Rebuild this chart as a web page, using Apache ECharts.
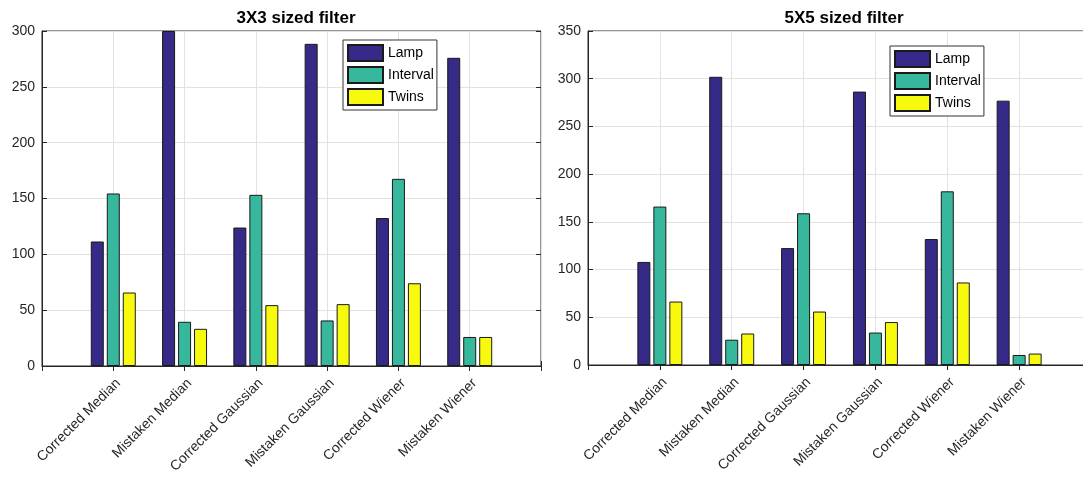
<!DOCTYPE html>
<html>
<head>
<meta charset="utf-8">
<script src="https://cdn.jsdelivr.net/npm/echarts@6/dist/echarts.min.js"></script>
<style>
  html, body { margin: 0; padding: 0; background: #fff; }
  #chart { width: 1083px; height: 479px; }
</style>
</head>
<body>
<div id="chart"></div>
<script>
// Filter variants on the x axis (padded with blank slots at both ends so the
// axis runs from 0 to 7 and the groups sit on 1..6)
const categories = ['Corrected Median', 'Mistaken Median', 'Corrected Gaussian',
                    'Mistaken Gaussian', 'Corrected Wiener', 'Mistaken Wiener'];
const seriesNames = ['Lamp', 'Interval', 'Twins'];

// 3X3 sized filter
const lamp3 = [111.5, 300, 124, 288.5, 132.5, 276];
const interval3 = [154.5, 39.6, 153.3, 40.8, 167.6, 26];
const twins3 = [65.8, 33.3, 54.5, 55.4, 74.1, 26];

// 5X5 sized filter
const lamp5 = [108, 302, 122.5, 286.5, 132, 277];
const interval5 = [166, 26.5, 159, 34, 182, 10.5];
const twins5 = [66.5, 33, 56, 45, 86.5, 12];

const yTicks3 = { min: 0, max: 300, interval: 50 };
const yTicks5 = { min: 0, max: 350, interval: 50 };

const colors = ['#352a87', '#37b89d', '#f8fa0d'];
const font = 'Liberation Sans, Arial, sans-serif';
const axisColor = '#262626';
const gridColor = '#e2e2e2';

const padded = arr => [null, ...arr, null];
const axisCats = ['', ...categories, ''];

function xAxis(gridIndex) {
  return {
    type: 'category', gridIndex, data: axisCats, boundaryGap: false,
    axisLine: { show: true, lineStyle: { color: axisColor, width: 1 } },
    axisTick: { show: true, inside: true, length: 5, interval: 0, lineStyle: { color: axisColor } },
    axisLabel: { interval: 0, rotate: 45, verticalAlign: 'top', fontFamily: font, fontSize: 14,
                 color: axisColor, margin: 10 },
    splitLine: { show: true, interval: 0, lineStyle: { color: gridColor, width: 1 } }
  };
}
// tick marks along the top edge of the box
function xAxisTop(gridIndex) {
  return {
    type: 'category', gridIndex, data: axisCats, boundaryGap: false, position: 'top',
    axisLine: { show: false },
    axisTick: { show: true, inside: true, length: 5, interval: 0, lineStyle: { color: axisColor } },
    axisLabel: { show: false }, splitLine: { show: false }
  };
}
function yAxis(gridIndex, t) {
  return {
    type: 'value', gridIndex, min: t.min, max: t.max, interval: t.interval,
    axisLine: { show: true, lineStyle: { color: axisColor, width: 1 } },
    axisTick: { show: true, inside: true, length: 5, lineStyle: { color: axisColor } },
    axisLabel: { fontFamily: font, fontSize: 14, color: axisColor, margin: 7 },
    splitLine: { show: true, lineStyle: { color: gridColor, width: 1 } }
  };
}
// tick marks along the right edge of the box
function yAxisRight(gridIndex, t) {
  return {
    type: 'value', gridIndex, min: t.min, max: t.max, interval: t.interval, position: 'right',
    axisLine: { show: false },
    axisTick: { show: true, inside: true, length: 5, lineStyle: { color: axisColor } },
    axisLabel: { show: false }, splitLine: { show: false }
  };
}
function bars(idx, values) {
  return values.map((v, i) => ({
    name: seriesNames[i], type: 'bar', xAxisIndex: idx, yAxisIndex: idx,
    data: padded(v), barWidth: 13, barGap: '23%', clip: true,
    itemStyle: { color: colors[i], borderColor: '#1a1a1a', borderWidth: 1 },
    emphasis: { disabled: true }
  }));
}
function legend(left, top) {
  return {
    orient: 'vertical', left, top, itemWidth: 35, itemHeight: 16, itemGap: 4,
    padding: [4, 3, 4, 4], backgroundColor: '#fff', borderColor: '#333', borderWidth: 1,
    borderRadius: 0, selectedMode: false, icon: 'rect', data: seriesNames,
    textStyle: { fontFamily: font, fontSize: 14, color: '#000' }
  };
}

const gridBase = { show: true, borderColor: axisColor, borderWidth: 1, backgroundColor: 'transparent', outerBoundsMode: 'none' };

const chart = echarts.init(document.getElementById('chart'), null, { renderer: 'canvas' });
chart.setOption({
  animation: false,
  backgroundColor: '#fff',
  title: [
    { text: '3X3 sized filter', left: 291, top: 5, textAlign: 'center',
      textStyle: { fontFamily: font, fontSize: 17, fontWeight: 'bold', color: '#000' } },
    { text: '5X5 sized filter', left: 839, top: 5, textAlign: 'center',
      textStyle: { fontFamily: font, fontSize: 17, fontWeight: 'bold', color: '#000' } }
  ],
  grid: [
    Object.assign({ left: 42, top: 31, width: 499, height: 335 }, gridBase),
    Object.assign({ left: 588, top: 31, width: 503, height: 334 }, gridBase)
  ],
  xAxis: [xAxis(0), xAxis(1), xAxisTop(0), xAxisTop(1)],
  yAxis: [yAxis(0, yTicks3), yAxis(1, yTicks5), yAxisRight(0, yTicks3), yAxisRight(1, yTicks5)],
  legend: [legend(343, 40), legend(890, 46)],
  series: [...bars(0, [lamp3, interval3, twins3]), ...bars(1, [lamp5, interval5, twins5])]
});
</script>
</body>
</html>
